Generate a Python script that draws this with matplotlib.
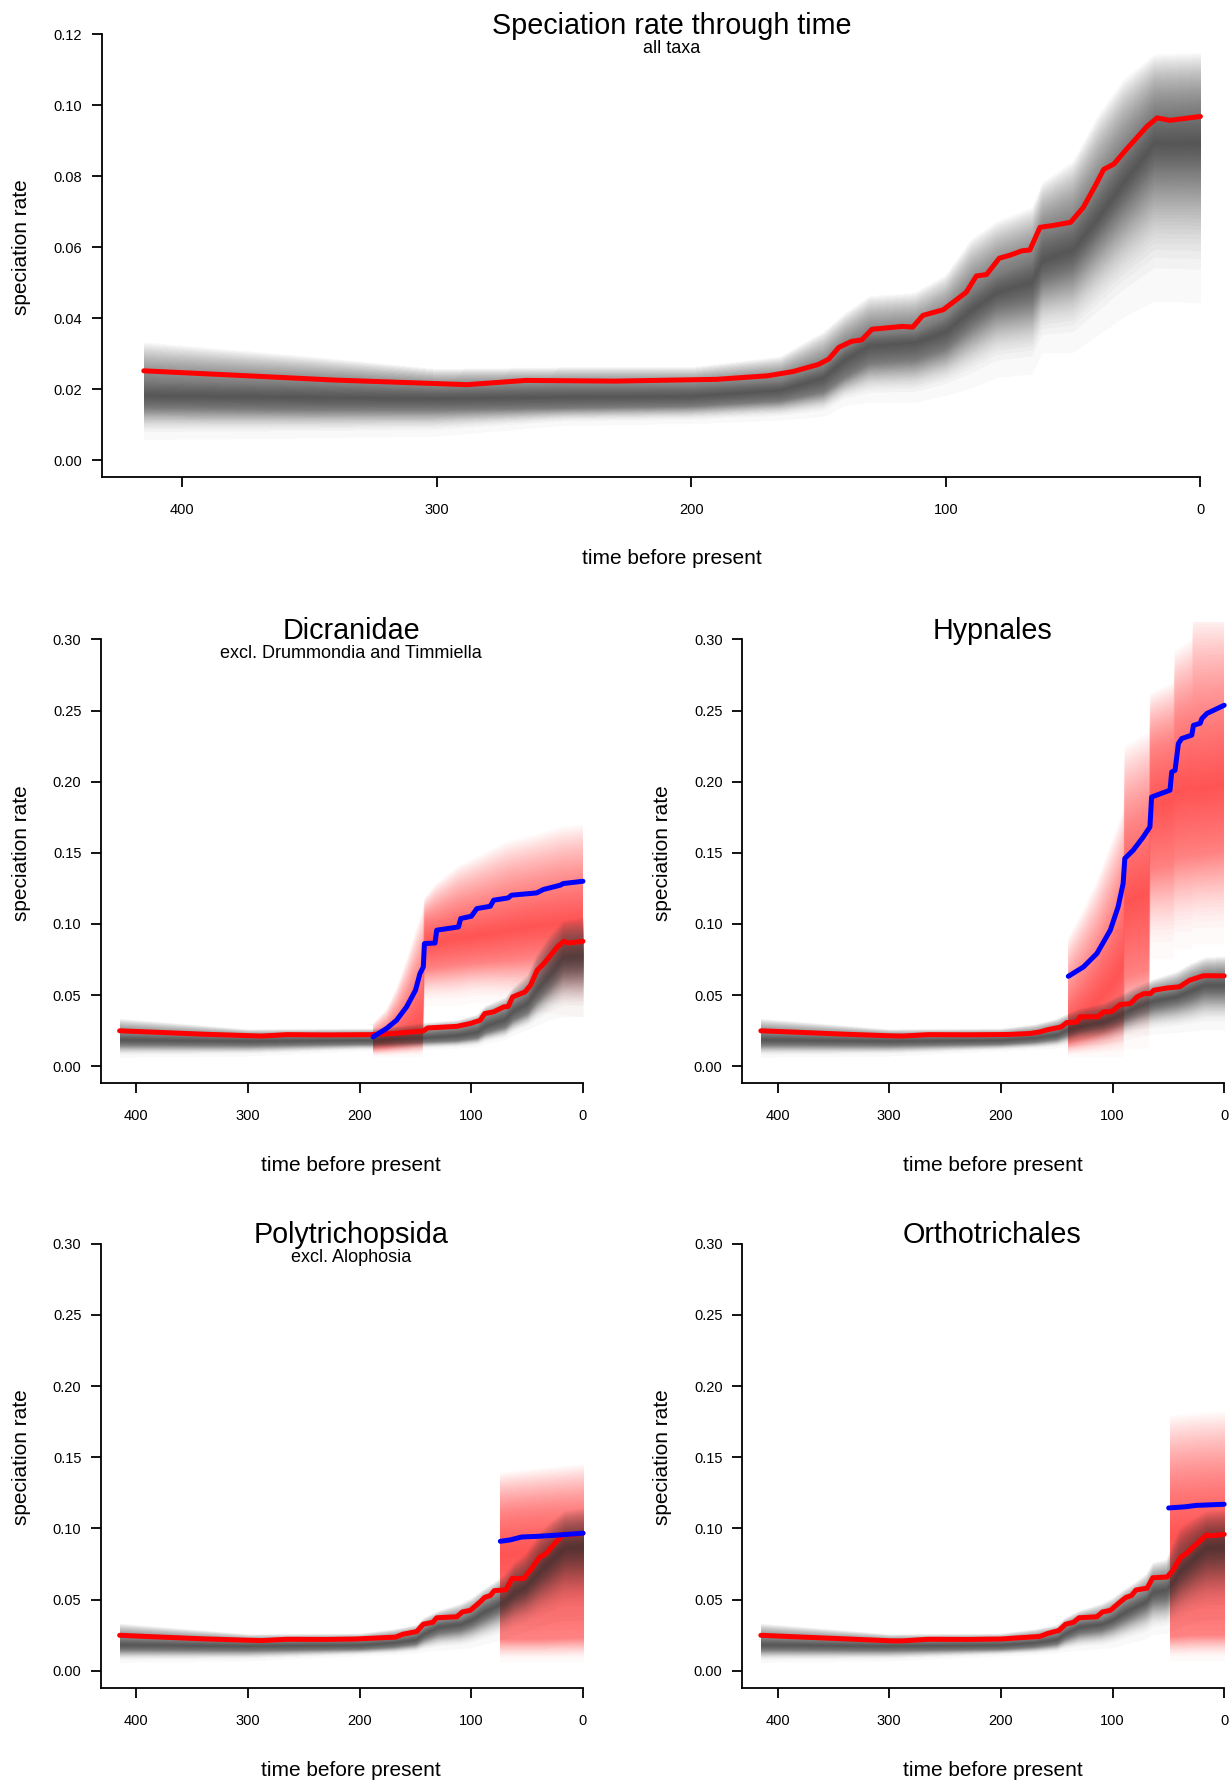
import numpy as np
import matplotlib
matplotlib.use('Agg')
from matplotlib import pyplot as plt
from matplotlib.colors import to_rgb

plt.rcParams['font.family'] = ['Liberation Sans', 'DejaVu Sans']

W, H = 1231, 1782
XLIM = (431.6, -16.6)
CORE = 0.3   # probability at the edge of the dark core (q1 / q3)

GREY = '#2a2a2a'
GREY_OPACITY = 0.031
RED_OPACITY = 0.022

# ---- all taxa ----
top_t = [415, 380, 340, 300, 288, 265, 230, 190, 170, 160, 150, 146, 142, 137, 133, 129, 117, 113, 109, 101,
         92, 88, 84, 79, 75, 70, 67, 63, 58, 51, 46, 41, 38, 34, 29, 21, 17, 12, 0]
top_mean = [0.0252, 0.0240, 0.0226, 0.0216, 0.0213, 0.0225, 0.0223, 0.0228, 0.0238, 0.0250, 0.0270, 0.0285,
            0.0318, 0.0335, 0.0339, 0.0369, 0.0377, 0.0375, 0.0408, 0.0424, 0.0473, 0.0519, 0.0523, 0.0569,
            0.0577, 0.0590, 0.0592, 0.0656, 0.0661, 0.0670, 0.0712, 0.0777, 0.0819, 0.0834, 0.0876, 0.0940,
            0.0964, 0.0957, 0.0968]
top_bt = [415, 350, 300, 250, 200, 165, 148, 140, 130, 112, 100, 90, 80, 66, 62, 50, 40, 30, 18, 0]
top_hi = [0.033, 0.029, 0.0255, 0.026, 0.026, 0.029, 0.036, 0.041, 0.046, 0.047, 0.052, 0.062, 0.067, 0.071,
          0.078, 0.084, 0.097, 0.107, 0.114, 0.1145]
top_q3 = [0.022, 0.021, 0.020, 0.0205, 0.0205, 0.022, 0.026, 0.031, 0.035, 0.036, 0.040, 0.047, 0.052, 0.056,
          0.063, 0.066, 0.076, 0.086, 0.097, 0.098]
top_med = [0.0180, 0.0175, 0.0172, 0.0176, 0.0178, 0.0195, 0.023, 0.028, 0.032, 0.033, 0.036, 0.042, 0.047, 0.050,
           0.056, 0.059, 0.068, 0.078, 0.089, 0.089]
top_q1 = [0.0145, 0.014, 0.014, 0.0145, 0.015, 0.0165, 0.019, 0.023, 0.027, 0.028, 0.031, 0.037, 0.042, 0.044,
          0.050, 0.053, 0.062, 0.071, 0.081, 0.081]
top_lo = [0.0055, 0.006, 0.0065, 0.0095, 0.010, 0.011, 0.012, 0.015, 0.016, 0.016, 0.018, 0.020, 0.023, 0.024,
          0.030, 0.030, 0.035, 0.040, 0.0445, 0.044]

# ---- Dicranidae ----
dic_t = [415, 380, 340, 300, 288, 265, 230, 190, 170, 143, 139, 113, 101, 92, 88, 80, 71, 67, 63, 52, 47, 41,
         35, 29, 23, 17, 13, 0]
dic_mean = [0.0249, 0.0238, 0.0225, 0.0215, 0.0212, 0.0222, 0.0220, 0.0222, 0.0230, 0.0248, 0.0269, 0.0280,
            0.0300, 0.0323, 0.0370, 0.0382, 0.0417, 0.0420, 0.0487, 0.0522, 0.0569, 0.0675, 0.0722, 0.0780,
            0.0838, 0.0878, 0.0866, 0.0878]
dic_bt = [415, 300, 200, 188, 143, 113, 95, 88, 70, 63, 50, 42, 30, 18, 0]
dic_hi = [0.033, 0.0255, 0.026, 0.026, 0.030, 0.032, 0.036, 0.042, 0.048, 0.055, 0.064, 0.078, 0.092, 0.102, 0.104]
dic_q3 = [0.022, 0.020, 0.0205, 0.0205, 0.023, 0.025, 0.028, 0.033, 0.038, 0.044, 0.050, 0.061, 0.073, 0.085, 0.086]
dic_med = [0.018, 0.0172, 0.0178, 0.0178, 0.0195, 0.021, 0.0235, 0.0275, 0.0325, 0.038, 0.044, 0.053, 0.064, 0.076,
           0.077]
dic_q1 = [0.0145, 0.014, 0.015, 0.015, 0.0165, 0.0175, 0.0195, 0.023, 0.027, 0.032, 0.037, 0.045, 0.055, 0.066,
          0.067]
dic_lo = [0.0055, 0.0065, 0.010, 0.010, 0.011, 0.012, 0.013, 0.015, 0.018, 0.021, 0.025, 0.028, 0.032, 0.034, 0.034]
dic_clade_t = [188, 176, 167, 158, 150, 146, 143, 142, 132.5, 131, 111.5, 109.5, 100, 95, 83, 80, 67, 64, 41.5,
               35.5, 20.5, 17.5, 0]
dic_clade_mean = [0.0206, 0.0265, 0.0323, 0.0417, 0.0534, 0.0651, 0.0698, 0.0862, 0.0866, 0.0956, 0.0979, 0.1038,
                  0.1054, 0.1108, 0.1124, 0.1167, 0.1183, 0.1202, 0.1218, 0.1242, 0.1272, 0.1284, 0.130]
dic_ct = [188, 176, 167, 158, 150, 143.5, 142, 132, 111, 100, 83, 67, 41, 20, 0]
dic_chi = [0.030, 0.040, 0.055, 0.075, 0.095, 0.110, 0.118, 0.128, 0.141, 0.145, 0.152, 0.158, 0.163, 0.168, 0.170]
dic_cq3 = [0.021, 0.026, 0.034, 0.045, 0.058, 0.068, 0.102, 0.104, 0.110, 0.112, 0.115, 0.119, 0.123, 0.126, 0.128]
dic_cmed = [0.016, 0.018, 0.020, 0.023, 0.027, 0.030, 0.086, 0.087, 0.090, 0.091, 0.093, 0.095, 0.098, 0.100, 0.102]
dic_cq1 = [0.012, 0.013, 0.014, 0.015, 0.016, 0.017, 0.068, 0.069, 0.071, 0.072, 0.073, 0.074, 0.076, 0.077, 0.078]
dic_clo = [0.006, 0.006, 0.006, 0.006, 0.006, 0.006, 0.042, 0.042, 0.042, 0.044, 0.044, 0.042, 0.038, 0.036, 0.034]

# ---- Hypnales ----
hyp_t = [415, 380, 340, 300, 288, 265, 230, 193, 174, 165, 158, 146, 141, 132, 129, 113, 108, 101, 93, 84,
         78, 72, 66, 63, 51, 40, 31, 19, 16, 0]
hyp_mean = [0.0249, 0.0238, 0.0225, 0.0214, 0.0212, 0.0222, 0.0221, 0.0223, 0.0230, 0.0241, 0.0257, 0.0276,
            0.0307, 0.0310, 0.0347, 0.0348, 0.0382, 0.0384, 0.0433, 0.0440, 0.0487, 0.0510, 0.0510, 0.0534,
            0.0550, 0.0558, 0.0604, 0.0635, 0.0636, 0.0635]
hyp_bt = [415, 300, 200, 170, 150, 142, 130, 108, 93, 78, 63, 43, 30, 18, 0]
hyp_hi = [0.033, 0.0255, 0.026, 0.029, 0.033, 0.036, 0.040, 0.044, 0.050, 0.056, 0.061, 0.066, 0.072, 0.076, 0.077]
hyp_q3 = [0.022, 0.020, 0.0205, 0.022, 0.025, 0.028, 0.031, 0.035, 0.040, 0.046, 0.050, 0.053, 0.058, 0.062, 0.063]
hyp_med = [0.018, 0.0172, 0.0178, 0.0195, 0.0215, 0.0245, 0.0275, 0.0305, 0.0355, 0.0415, 0.0455, 0.0485, 0.0525,
           0.0565, 0.0565]
hyp_q1 = [0.0145, 0.014, 0.015, 0.0165, 0.0185, 0.021, 0.024, 0.027, 0.031, 0.036, 0.040, 0.043, 0.046, 0.050, 0.050]
hyp_lo = [0.0055, 0.0065, 0.010, 0.011, 0.012, 0.013, 0.014, 0.015, 0.017, 0.020, 0.022, 0.023, 0.024, 0.025, 0.025]
hyp_clade_t = [139.6, 126, 114, 102, 95, 90.5, 89, 81.5, 72.5, 66.5, 65, 48.5, 47, 44, 41, 38, 29, 27.5, 21.5,
               20, 15.5, 0]
hyp_clade_mean = [0.0632, 0.0698, 0.0792, 0.0956, 0.112, 0.1284, 0.146, 0.1518, 0.1611, 0.1682, 0.1892, 0.194,
                  0.2068, 0.208, 0.2268, 0.2303, 0.2327, 0.2396, 0.2410, 0.2443, 0.2479, 0.2537]
hyp_ct = [139.6, 126, 114, 102, 90, 89, 67, 66, 45, 44, 28.5, 27.5, 0]
hyp_chi = [0.090, 0.110, 0.130, 0.155, 0.180, 0.225, 0.235, 0.262, 0.270, 0.292, 0.300, 0.318, 0.318]
hyp_cq3 = [0.048, 0.063, 0.078, 0.098, 0.123, 0.165, 0.175, 0.222, 0.228, 0.240, 0.245, 0.244, 0.248]
hyp_cmed = [0.028, 0.035, 0.045, 0.055, 0.070, 0.115, 0.122, 0.182, 0.187, 0.192, 0.196, 0.194, 0.198]
hyp_cq1 = [0.016, 0.019, 0.022, 0.026, 0.032, 0.062, 0.068, 0.138, 0.141, 0.146, 0.148, 0.148, 0.151]
hyp_clo = [0.006, 0.006, 0.006, 0.006, 0.006, 0.012, 0.012, 0.075, 0.075, 0.082, 0.082, 0.085, 0.085]

# ---- Polytrichopsida ----
pol_t = [415, 380, 340, 303, 288, 265, 230, 204, 168, 161, 149, 143, 134.5, 131, 113, 108, 101, 92, 88, 83,
         79.5, 69, 63.5, 53, 46, 39, 33, 26, 17, 12, 0]
pol_mean = [0.0250, 0.0238, 0.0225, 0.0216, 0.0213, 0.0222, 0.0221, 0.0224, 0.0237, 0.0258, 0.0276, 0.0328,
            0.0341, 0.0373, 0.0380, 0.0414, 0.0425, 0.0485, 0.0516, 0.0529, 0.0563, 0.0570, 0.0649, 0.0649,
            0.0719, 0.0797, 0.0824, 0.0889, 0.0962, 0.0954, 0.0967]
pol_bt = [415, 300, 200, 170, 150, 143, 130, 110, 100, 90, 80, 70, 62, 52, 45, 38, 30, 17, 0]
pol_hi = [0.033, 0.0255, 0.026, 0.029, 0.032, 0.037, 0.042, 0.047, 0.051, 0.057, 0.062, 0.068, 0.076, 0.082,
          0.090, 0.098, 0.104, 0.112, 0.114]
pol_q3 = [0.022, 0.020, 0.0205, 0.022, 0.025, 0.029, 0.034, 0.036, 0.040, 0.046, 0.050, 0.054, 0.061, 0.065,
          0.071, 0.078, 0.084, 0.094, 0.095]
pol_med = [0.018, 0.0172, 0.0178, 0.0195, 0.0215, 0.0255, 0.0305, 0.0325, 0.0355, 0.0405, 0.0445, 0.0485, 0.0545,
           0.0585, 0.0645, 0.0705, 0.0765, 0.086, 0.087]
pol_q1 = [0.0145, 0.014, 0.015, 0.0165, 0.0185, 0.022, 0.026, 0.028, 0.031, 0.035, 0.039, 0.043, 0.048, 0.052,
          0.057, 0.062, 0.067, 0.076, 0.077]
pol_lo = [0.0055, 0.0065, 0.010, 0.011, 0.012, 0.013, 0.014, 0.015, 0.016, 0.018, 0.020, 0.022, 0.025, 0.027,
          0.029, 0.031, 0.033, 0.035, 0.035]
pol_clade_t = [74, 65, 55, 40, 20, 0]
pol_clade_mean = [0.0910, 0.0920, 0.0940, 0.0945, 0.0955, 0.0967]
pol_ct = [74.4, 40, 0]
pol_chi = [0.139, 0.142, 0.145]
pol_cq3 = [0.110, 0.112, 0.114]
pol_cmed = [0.082, 0.084, 0.086]
pol_cq1 = [0.022, 0.022, 0.023]
pol_clo = [0.006, 0.006, 0.006]

# ---- Orthotrichales ----
ort_t = [415, 380, 340, 298, 288, 265, 230, 200, 165, 158, 148, 142, 135, 130, 114, 109, 102, 93, 88, 83,
         79, 69, 64, 51, 46, 39, 34, 25, 16, 11, 0]
ort_mean = [0.0250, 0.0238, 0.0225, 0.0211, 0.0211, 0.0222, 0.0221, 0.0224, 0.0242, 0.0263, 0.0284, 0.0328,
            0.0341, 0.0373, 0.0380, 0.0414, 0.0425, 0.0485, 0.0516, 0.0529, 0.0568, 0.0581, 0.0654, 0.0659,
            0.0706, 0.0797, 0.0824, 0.0889, 0.0954, 0.0949, 0.0959]
ort_bt = [415, 300, 200, 170, 150, 143, 130, 110, 100, 90, 80, 70, 64, 52, 46, 40, 34, 25, 16, 0]
ort_hi = [0.033, 0.0255, 0.026, 0.029, 0.032, 0.037, 0.042, 0.047, 0.051, 0.057, 0.062, 0.068, 0.076, 0.078,
          0.090, 0.100, 0.104, 0.108, 0.112, 0.113]
ort_q3 = [0.022, 0.020, 0.0205, 0.022, 0.025, 0.029, 0.034, 0.036, 0.040, 0.046, 0.050, 0.054, 0.061, 0.063,
          0.069, 0.077, 0.081, 0.088, 0.094, 0.095]
ort_med = [0.018, 0.0172, 0.0178, 0.0195, 0.0215, 0.0255, 0.0305, 0.0325, 0.0355, 0.0405, 0.0445, 0.0485, 0.0545,
           0.0565, 0.0625, 0.0695, 0.0735, 0.080, 0.086, 0.087]
ort_q1 = [0.0145, 0.014, 0.015, 0.0165, 0.0185, 0.022, 0.026, 0.028, 0.031, 0.035, 0.039, 0.043, 0.048, 0.049,
          0.055, 0.061, 0.065, 0.071, 0.076, 0.077]
ort_lo = [0.0055, 0.0065, 0.010, 0.011, 0.012, 0.013, 0.014, 0.015, 0.016, 0.018, 0.020, 0.022, 0.025, 0.026,
          0.028, 0.030, 0.032, 0.034, 0.035, 0.035]
ort_clade_t = [49.7, 35, 25, 0]
ort_clade_mean = [0.1144, 0.1152, 0.1162, 0.1170]
ort_ct = [48.5, 25, 0]
ort_chi = [0.179, 0.181, 0.182]
ort_cq3 = [0.130, 0.132, 0.133]
ort_cmed = [0.094, 0.096, 0.097]
ort_cq1 = [0.024, 0.025, 0.025]
ort_clo = [0.007, 0.007, 0.007]


def quantile_curve(p, lo, q1, med, q3, hi, tail=0.5):
    # value of the p-th quantile: long lower tail, linear core and upper tail
    if p < CORE:
        return lo + (q1 - lo) * (p / CORE) ** tail
    if p < 0.5:
        return q1 + (med - q1) * (p - CORE) / (0.5 - CORE)
    if p <= 1 - CORE:
        return med + (q3 - med) * (p - 0.5) / (0.5 - CORE)
    return q3 + (hi - q3) * (p - 1 + CORE) / CORE


def shade(ax, t, lo, q1, med, q3, hi, colour, opacity, ylim, tail=0.5, ncol=900, nrow=700):
    # density of nested quantile intervals, rendered as one RGBA image:
    # each pixel takes the opacity of all interval polygons covering it
    t = np.asarray(t, dtype=float)
    tt = np.linspace(t[0], t[-1], ncol)
    cols = [np.interp(tt[::-1], t[::-1], np.asarray(a, dtype=float)[::-1])[::-1]
            for a in (lo, q1, med, q3, hi)]
    yy = np.linspace(ylim[0], ylim[1], nrow)[:, None]
    count = np.zeros((nrow, ncol))
    for p in np.arange(0.0, 0.5, 0.01):
        lower = quantile_curve(p, *cols, tail=tail)
        upper = quantile_curve(1 - p, *cols, tail=tail)
        count += (yy >= lower) & (yy <= upper)
    rgba = np.zeros((nrow, ncol, 4))
    rgba[..., :3] = to_rgb(colour)
    rgba[..., 3] = 1 - (1 - opacity) ** count
    ax.imshow(rgba, extent=[t[0], t[-1], ylim[0], ylim[1]], origin='lower', aspect='auto')


def add_panel(left, top, right, bottom, ymax, ystep, ylow):
    ax = fig.add_axes([left / W, 1 - bottom / H, (right - left) / W, (bottom - top) / H])
    ax.set_xlim(*XLIM)
    ax.set_ylim(ylow, ymax - ylow)
    for s in ['top', 'right']:
        ax.spines[s].set_visible(False)
    ax.spines['left'].set_bounds(ylow, ymax)
    ax.spines['bottom'].set_bounds(XLIM[0], 0)
    for s in ['left', 'bottom']:
        ax.spines[s].set_linewidth(1.3)
    yt = np.arange(0, ymax + 1e-9, ystep)
    ax.set_yticks(yt)
    ax.set_yticklabels(['%.2f' % v for v in yt])
    ax.set_xticks([400, 300, 200, 100, 0])
    ax.set_xticklabels(['400', '300', '200', '100', '0'])
    ax.tick_params(direction='out', length=7.2, width=1.3, labelsize=10.5)
    ax.tick_params(axis='y', pad=7)
    ax.tick_params(axis='x', pad=11.5)
    return ax


def put_text(x, y, s, size, rotation=0):
    fig.text(x / W, 1 - y / H, s, fontsize=size, ha='center', va='center', rotation=rotation)


fig = plt.figure(figsize=(W / 100, H / 100), dpi=100)

# all taxa
ax = add_panel(101.5, 17.0, 1242.7, 477.4, 0.12, 0.02, -0.0048)
shade(ax, top_bt, top_lo, top_q1, top_med, top_q3, top_hi, GREY, GREY_OPACITY, ax.get_ylim(), tail=0.4)
ax.plot(top_t, top_mean, color='red', lw=3.6, solid_capstyle='round', solid_joinstyle='round')
ax.set_xlim(*XLIM)
put_text(672, 26.5, 'Speciation rate through time', 20.7)
put_text(672, 48.5, 'all taxa', 13)
put_text(672, 559, 'time before present', 15)
put_text(21.5, 247, 'speciation rate', 15, rotation=90)

panels = [
    # box, titles, background, clade
    ((101.1, 622.3, 601.5, 1083.3), ('Dicranidae', 'excl. Drummondia and Timmiella'),
     (dic_t, dic_mean, dic_bt, dic_lo, dic_q1, dic_med, dic_q3, dic_hi),
     (dic_clade_t, dic_clade_mean, dic_ct, dic_clo, dic_cq1, dic_cmed, dic_cq3, dic_chi)),
    ((742.3, 622.3, 1242.7, 1083.3), ('Hypnales', None),
     (hyp_t, hyp_mean, hyp_bt, hyp_lo, hyp_q1, hyp_med, hyp_q3, hyp_hi),
     (hyp_clade_t, hyp_clade_mean, hyp_ct, hyp_clo, hyp_cq1, hyp_cmed, hyp_cq3, hyp_chi)),
    ((101.1, 1226.5, 601.5, 1688.0), ('Polytrichopsida', 'excl. Alophosia'),
     (pol_t, pol_mean, pol_bt, pol_lo, pol_q1, pol_med, pol_q3, pol_hi),
     (pol_clade_t, pol_clade_mean, pol_ct, pol_clo, pol_cq1, pol_cmed, pol_cq3, pol_chi)),
    ((742.3, 1226.5, 1242.7, 1688.0), ('Orthotrichales', None),
     (ort_t, ort_mean, ort_bt, ort_lo, ort_q1, ort_med, ort_q3, ort_hi),
     (ort_clade_t, ort_clade_mean, ort_ct, ort_clo, ort_cq1, ort_cmed, ort_cq3, ort_chi)),
]

for box, (title, sub), bg, clade in panels:
    left, top, right, bottom = box
    ax = add_panel(left, top, right, bottom, 0.30, 0.05, -0.012)
    ylim = ax.get_ylim()
    shade(ax, *clade[2:], 'red', RED_OPACITY, ylim, ncol=400)
    shade(ax, *bg[2:], GREY, GREY_OPACITY, ylim, tail=0.4)
    ax.plot(bg[0], bg[1], color='red', lw=3.6, solid_capstyle='round', solid_joinstyle='round')
    ax.plot(clade[0], clade[1], color='blue', lw=3.6, solid_capstyle='round', solid_joinstyle='round')
    ax.set_xlim(*XLIM)
    ax.set_ylim(*ylim)
    cx = (left + right) / 2
    put_text(cx, top + 8.5, title, 20.7)
    if sub:
        put_text(cx, top + 31, sub, 13)
    put_text(cx, bottom + 82, 'time before present', 15)
    put_text(left - 80, (top + bottom) / 2, 'speciation rate', 15, rotation=90)

fig.savefig('out.png', dpi=100)
